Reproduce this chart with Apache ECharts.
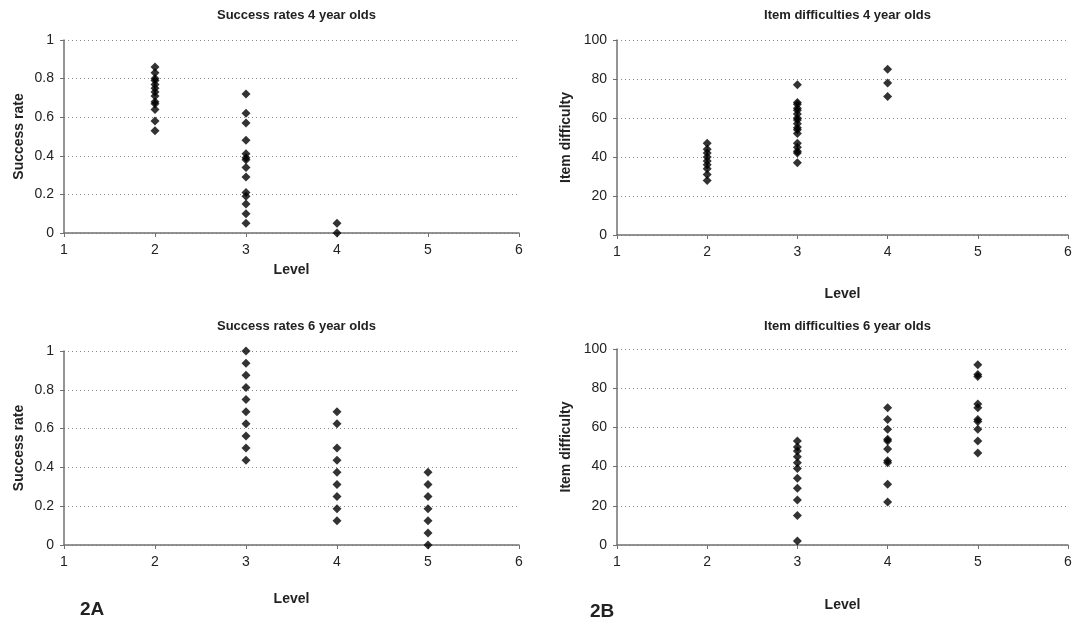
<!DOCTYPE html>
<html>
<head>
<meta charset="utf-8">
<script src="https://cdn.jsdelivr.net/npm/echarts@6/dist/echarts.min.js"></script>
<style>
html,body{margin:0;padding:0;background:#fff;}
#c{width:1080px;height:626px;}
</style>
</head>
<body>
<div id="c"></div>
<script>
// ---- data ----
var titles = ["Success rates 4 year olds", "Item difficulties 4 year olds", "Success rates 6 year olds", "Item difficulties 6 year olds"];
var yNames = ["Success rate", "Item difficulty", "Success rate", "Item difficulty"];
var xName = "Level";
var panelLabels = ["2A", "2B"];

var sr4_l2 = [0.86, 0.83, 0.80, 0.79, 0.77, 0.75, 0.73, 0.71, 0.68, 0.67, 0.64, 0.58, 0.53];
var sr4_l3 = [0.72, 0.62, 0.57, 0.48, 0.41, 0.39, 0.38, 0.34, 0.29, 0.21, 0.19, 0.15, 0.10, 0.05];
var sr4_l4 = [0.05, 0];

var id4_l2 = [47, 44, 42, 40, 38, 36, 34, 31, 28];
var id4_l3 = [77, 68, 67, 65, 64, 62, 60, 59, 57, 55, 54, 52, 47, 45, 43, 42, 37];
var id4_l4 = [85, 78, 71];

var sr6_l3 = [1, 0.9375, 0.875, 0.8125, 0.75, 0.6875, 0.625, 0.5625, 0.5, 0.4375];
var sr6_l4 = [0.6875, 0.625, 0.5, 0.4375, 0.375, 0.3125, 0.25, 0.1875, 0.125];
var sr6_l5 = [0.375, 0.3125, 0.25, 0.1875, 0.125, 0.0625, 0];

var id6_l3 = [53, 50, 48, 45, 42, 39, 34, 29, 23, 15, 2];
var id6_l4 = [70, 64, 59, 54, 53, 49, 43, 42, 31, 22];
var id6_l5 = [92, 87, 86, 72, 70, 64, 63, 59, 53, 47];

var panels = [
  {levels: [2, 3, 4], values: [sr4_l2, sr4_l3, sr4_l4], ymax: 1, yint: 0.2},
  {levels: [2, 3, 4], values: [id4_l2, id4_l3, id4_l4], ymax: 100, yint: 20},
  {levels: [3, 4, 5], values: [sr6_l3, sr6_l4, sr6_l5], ymax: 1, yint: 0.2},
  {levels: [3, 4, 5], values: [id6_l3, id6_l4, id6_l5], ymax: 100, yint: 20}
];

// ---- layout ----
var grids = [
  {left: 64, top: 40, width: 455, height: 193},
  {left: 617, top: 40, width: 451, height: 195},
  {left: 64, top: 351, width: 455, height: 194},
  {left: 617, top: 349, width: 451, height: 196}
];
var xNameGaps = [30, 52, 47, 53];
var yNameGaps = [38, 44, 38, 44];

var FONT = "Liberation Sans, Arial, sans-serif";
var axisColor = "#707070";
var textColor = "#222";

var option = {
  backgroundColor: "#fff",
  animation: false,
  title: [],
  grid: grids,
  xAxis: [],
  yAxis: [],
  series: [],
  graphic: [
    {type: "text", left: 80, top: 600, style: {text: panelLabels[0], font: "bold 19px " + FONT, fill: textColor}},
    {type: "text", left: 590, top: 602, style: {text: panelLabels[1], font: "bold 19px " + FONT, fill: textColor}}
  ]
};

for (var i = 0; i < 4; i++) {
  var g = grids[i];
  option.title.push({
    text: titles[i],
    left: g.left + g.width / 2,
    textAlign: "center",
    top: i < 2 ? 4 : 315,
    textStyle: {fontFamily: FONT, fontSize: 13, fontWeight: "bold", color: textColor}
  });
  option.xAxis.push({
    gridIndex: i, type: "value", min: 1, max: 6, interval: 1,
    name: xName, nameLocation: "middle", nameGap: xNameGaps[i],
    nameTextStyle: {fontFamily: FONT, fontSize: 14, fontWeight: "bold", color: textColor},
    axisLine: {show: true, lineStyle: {color: axisColor, width: 1.5}},
    axisTick: {show: true, length: 4, inside: false, lineStyle: {color: axisColor}},
    axisLabel: {fontFamily: FONT, fontSize: 14, color: textColor, margin: 10},
    splitLine: {show: false}
  });
  var p = panels[i];
  option.yAxis.push({
    gridIndex: i, type: "value", min: 0, max: p.ymax, interval: p.yint,
    name: yNames[i], nameLocation: "middle", nameGap: yNameGaps[i],
    nameTextStyle: {fontFamily: FONT, fontSize: 14, fontWeight: "bold", color: textColor},
    axisLine: {show: true, lineStyle: {color: axisColor, width: 1.5}},
    axisTick: {show: true, length: 4, inside: false, lineStyle: {color: axisColor}},
    axisLabel: {fontFamily: FONT, fontSize: 14, color: textColor, margin: 10},
    splitLine: {show: true, lineStyle: {color: "#8a8a8a", type: [1, 3], width: 1}}
  });
  var data = [];
  for (var k = 0; k < p.levels.length; k++) {
    for (var j = 0; j < p.values[k].length; j++) {
      data.push([p.levels[k], p.values[k][j]]);
    }
  }
  option.series.push({
    type: "scatter", xAxisIndex: i, yAxisIndex: i,
    symbol: "diamond", symbolSize: 9,
    itemStyle: {color: "#000"},
    data: data
  });
}

var chart = echarts.init(document.getElementById("c"), null, {renderer: "canvas"});
chart.setOption(option);
</script>
</body>
</html>
